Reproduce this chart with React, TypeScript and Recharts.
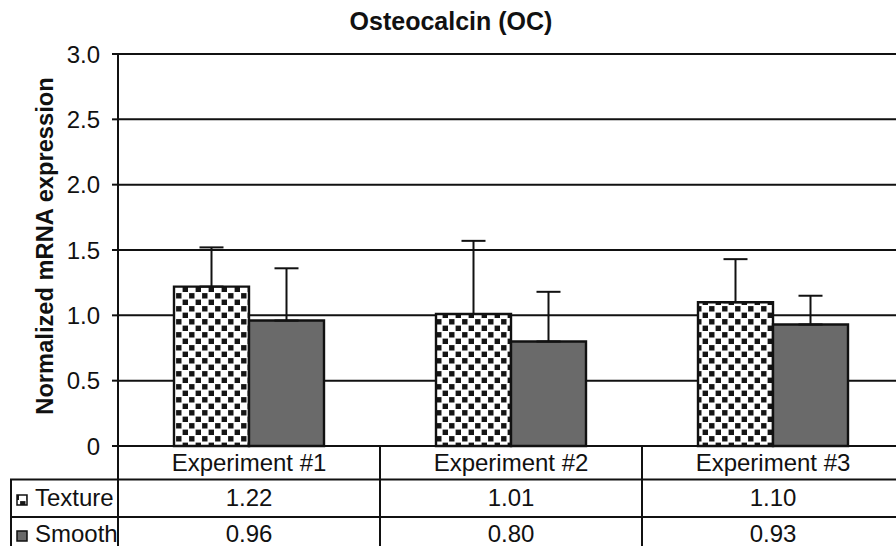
import React from 'react';
import { BarChart, Bar, XAxis, YAxis, CartesianGrid, ErrorBar, Customized } from 'recharts';

const categories = ['Experiment #1', 'Experiment #2', 'Experiment #3'];
const textureValues = [1.22, 1.01, 1.1];
const smoothValues = [0.96, 0.8, 0.93];
const textureErrors = [0.3, 0.56, 0.33];
const smoothErrors = [0.4, 0.38, 0.22];
const yTicks = [0, 0.5, 1.0, 1.5, 2.0, 2.5, 3.0];
const seriesNames = ['Texture', 'Smooth'];
const title = 'Osteocalcin (OC)';
const yLabel = 'Normalized mRNA expression';

const data = categories.map((c, i) => ({
  name: c,
  texture: textureValues[i],
  smooth: smoothValues[i],
  textureErr: [0, textureErrors[i]],
  smoothErr: [0, smoothErrors[i]],
}));

const W = 910;
const H = 546;
const MARGIN = { top: 54, right: 6, bottom: 0, left: 0 };
const YAXIS_W = 118;
const XAXIS_H = 100;
const BAND = (W - MARGIN.right - MARGIN.left - YAXIS_W) / categories.length;
const FONT = '"Liberation Sans", Arial, Helvetica, sans-serif';
const INK = '#111';
const SMOOTH_FILL = '#6a6a6a';
const FS = 24;

const TableTick = (props: any) => {
  const { x, y, payload } = props;
  const i = categories.indexOf(payload.value);
  const half = BAND / 2;
  return (
    <g>
      <text x={x} y={y + 25} textAnchor="middle" fontSize={FS} fill={INK} fontFamily={FONT}>
        {payload.value}
      </text>
      <text x={x} y={y + 59.5} textAnchor="middle" fontSize={FS} fill={INK} fontFamily={FONT}>
        {textureValues[i].toFixed(2)}
      </text>
      <text x={x} y={y + 95.5} textAnchor="middle" fontSize={FS} fill={INK} fontFamily={FONT}>
        {smoothValues[i].toFixed(2)}
      </text>
      <line x1={x - half} x2={x + half} y1={y + 33.5} y2={y + 33.5} stroke={INK} strokeWidth={2} />
      <line x1={x - half} x2={x + half} y1={y + 71} y2={y + 71} stroke={INK} strokeWidth={2} />
      <line x1={x + half} x2={x + half} y1={y} y2={y + XAXIS_H} stroke={INK} strokeWidth={2} />
    </g>
  );
};

const Overlay = () => {
  const plotBottom = H - MARGIN.bottom - XAXIS_H;
  const axisX = MARGIN.left + YAXIS_W;
  return (
    <g fontFamily={FONT}>
      <text x={451} y={30} textAnchor="middle" fontSize={25} fontWeight="bold" fill={INK}>
        {title}
      </text>
      <text
        x={0}
        y={0}
        transform={`translate(53, 246) rotate(-90)`}
        textAnchor="middle"
        fontSize={23.7}
        fontWeight="bold"
        fill={INK}
      >
        {yLabel}
      </text>
      <line x1={axisX} x2={axisX} y1={plotBottom} y2={H} stroke={INK} strokeWidth={2} />
      <line x1={10} x2={axisX} y1={plotBottom + 33.5} y2={plotBottom + 33.5} stroke={INK} strokeWidth={2} />
      <line x1={10} x2={axisX} y1={plotBottom + 71} y2={plotBottom + 71} stroke={INK} strokeWidth={2} />
      <line x1={11} x2={11} y1={plotBottom + 33.5} y2={H} stroke={INK} strokeWidth={2} />
      <rect x={17} y={495} width={10} height={10} fill="url(#checkerTexture)" stroke={INK} strokeWidth={1.5} />
      <text x={35} y={506} fontSize={FS} fill={INK}>
        {seriesNames[0]}
      </text>
      <rect x={17} y={531} width={10} height={10} fill={SMOOTH_FILL} stroke={INK} strokeWidth={1.5} />
      <text x={35} y={542} fontSize={FS} fill={INK}>
        {seriesNames[1]}
      </text>
    </g>
  );
};

export default function App() {
  return (
    <div
      style={{
        position: 'absolute',
        left: 0,
        top: 0,
        width: 896,
        height: 546,
        overflow: 'hidden',
        background: '#fff',
      }}
    >
      <svg width={0} height={0} style={{ position: 'absolute' }}>
        <defs>
          <pattern id="checkerTexture" width={13} height={13} patternUnits="userSpaceOnUse">
            <rect x={0} y={0} width={13} height={13} fill="#fff" />
            <rect x={0.6} y={0.6} width={5.4} height={5.4} fill="#151515" />
            <rect x={7.1} y={7.1} width={5.4} height={5.4} fill="#151515" />
          </pattern>
        </defs>
      </svg>
      <BarChart width={W} height={H} data={data} margin={MARGIN} barCategoryGap={56} barGap={0}>
        <CartesianGrid horizontal vertical={false} stroke={INK} strokeWidth={2} />
        <XAxis
          dataKey="name"
          height={XAXIS_H}
          axisLine={{ stroke: INK, strokeWidth: 2 }}
          tickLine={false}
          tickSize={0}
          tickMargin={0}
          interval={0}
          tick={<TableTick />}
        />
        <YAxis
          width={YAXIS_W}
          domain={[0, 3]}
          ticks={yTicks}
          interval={0}
          tickFormatter={(v: number) => (v === 0 ? '0' : v.toFixed(1))}
          axisLine={{ stroke: INK, strokeWidth: 2 }}
          tickLine={{ stroke: INK, strokeWidth: 2 }}
          tickSize={6}
          tickMargin={12}
          tick={{ fontSize: FS, fill: INK, fontFamily: FONT }}
        />
        <Bar dataKey="texture" fill="url(#checkerTexture)" stroke={INK} strokeWidth={2.4} isAnimationActive={false}>
          <ErrorBar dataKey="textureErr" width={12} stroke={INK} strokeWidth={2} direction="y" />
        </Bar>
        <Bar dataKey="smooth" fill={SMOOTH_FILL} stroke={INK} strokeWidth={2.4} isAnimationActive={false}>
          <ErrorBar dataKey="smoothErr" width={12} stroke={INK} strokeWidth={2} direction="y" />
        </Bar>
        <Customized component={Overlay} />
      </BarChart>
    </div>
  );
}
